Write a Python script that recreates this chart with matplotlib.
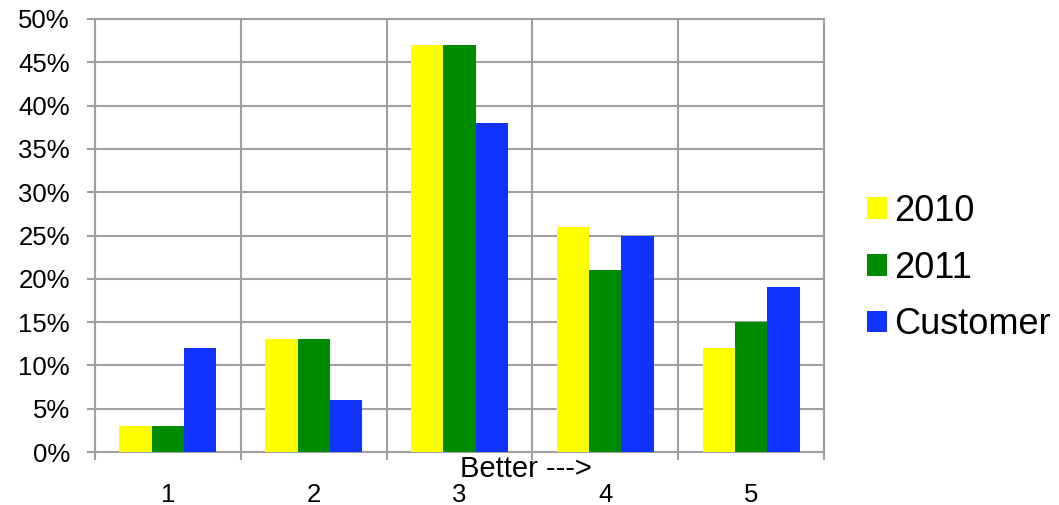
import numpy as np
import matplotlib.pyplot as plt
from matplotlib.ticker import FixedLocator, PercentFormatter

plt.rcParams['font.family'] = ['Liberation Sans', 'DejaVu Sans']

categories = ["1", "2", "3", "4", "5"]
series_names = ["2010", "2011", "Customer"]
vals_2010 = [3, 13, 47, 26, 12]
vals_2011 = [3, 13, 47, 21, 15]
vals_customer = [12, 6, 38, 25, 19]
colors = ["#FFFF00", "#008A00", "#1133FF"]

fig = plt.figure(figsize=(10.59, 5.05), dpi=100)
ax = fig.add_axes([95 / 1059, 53 / 505, 729 / 1059, 433 / 505])

x = np.arange(len(categories))
w = 0.222
for i, (name, vals, c) in enumerate(zip(series_names, [vals_2010, vals_2011, vals_customer], colors)):
    ax.bar(x + (i - 1) * w, vals, width=w, color=c, label=name, zorder=3)

ax.set_xlim(-0.5, len(categories) - 0.5)
ax.set_ylim(0, 50)
ax.set_yticks(np.arange(0, 51, 5))
ax.yaxis.set_major_formatter(PercentFormatter(decimals=0))
ax.set_xticks(x)
ax.set_xticklabels(categories)
ax.xaxis.set_minor_locator(FixedLocator(np.arange(-0.5, len(categories), 1.0)))

grid_c = "#A0A0A0"
ax.grid(axis="y", which="major", color=grid_c, lw=1.5, zorder=0)
ax.grid(axis="x", which="minor", color=grid_c, lw=1.5, zorder=0)
for s in ax.spines.values():
    s.set_color(grid_c)
    s.set_linewidth(1.5)

ax.tick_params(axis="y", length=6, width=1.5, color=grid_c, pad=12, labelsize=18.5)
ax.tick_params(axis="x", which="major", length=0, pad=22, labelsize=18.5)
ax.tick_params(axis="x", which="minor", length=6, width=1.5, color=grid_c)

ax.text(0.5, -0.04, "Better --->", transform=ax.transAxes, ha="left", va="center", fontsize=21)

fig.legend(loc="center left", bbox_to_anchor=(849 / 1059, (505 - 268) / 505), frameon=False,
           fontsize=26, handlelength=0.55, handleheight=0.55, handletextpad=0.2,
           labelspacing=0.6, borderpad=0)

fig.savefig("out.png", dpi=100)
